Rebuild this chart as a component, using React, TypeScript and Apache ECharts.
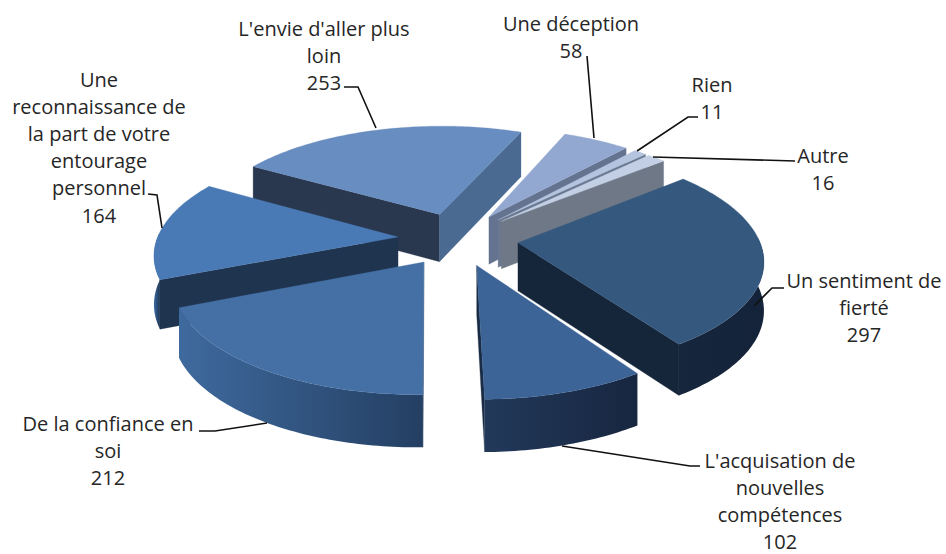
import React, { useEffect, useRef } from "react";
import * as echarts from "echarts";

const categories = [
  "Un sentiment de fierté",
  "L'acquisation de nouvelles compétences",
  "De la confiance en soi",
  "Une reconnaissance de la part de votre entourage personnel",
  "L'envie d'aller plus loin",
  "Une déception",
  "Rien",
  "Autre",
];
const values = [297, 102, 212, 164, 253, 58, 11, 16];

const topColors = ["#35587f", "#3c6496", "#4570a5", "#4a7ab5", "#688dc0", "#92a8d0", "#b4c3de", "#c3cfe4"];
const wallColors: [string, string][] = [
  ["#14233a", "#16263c"],
  ["#172640", "#22395a"],
  ["#243f62", "#3f6a9e"],
  ["#1e3550", "#3a6aa5"],
  ["#4a6a92", "#4a6a92"],
  ["#66758f", "#66758f"],
  ["#6a7890", "#6a7890"],
  ["#6f7886", "#6f7886"],
];
const startFaceColors = ["#16263a", "#22395a", "#243f62", "#1f344f", "#29384f", "#6a7a98", "#6a7a98", "#6f7886"];
const endFaceColors = ["#16263a", "#1a2c45", "#243f62", "#1e3550", "#4a6a92", "#64738f", "#6a7890", "#6f7886"];

type Label = { lines: string[]; x: number; y: number; leader: number[][] };
const labels: Label[] = [
  { lines: ["Un sentiment de", "fierté", "297"], x: 864, y: 280, leader: [[784, 288], [772, 288], [754, 306]] },
  { lines: ["L'acquisation de", "nouvelles", "compétences", "102"], x: 780, y: 460, leader: [[700, 466], [690, 466], [562, 446]] },
  { lines: ["De la confiance en", "soi", "212"], x: 108, y: 423, leader: [[199, 431], [215, 431], [267, 423]] },
  { lines: ["Une", "reconnaissance de", "la part de votre", "entourage", "personnel", "164"], x: 99, y: 79, leader: [[148, 194], [157, 195], [162, 228]] },
  { lines: ["L'envie d'aller plus", "loin", "253"], x: 324, y: 28, leader: [[344, 87], [358, 87], [376, 128]] },
  { lines: ["Une déception", "58"], x: 571, y: 23, leader: [[587, 56], [594, 138]] },
  { lines: ["Rien", "11"], x: 712, y: 84, leader: [[698, 117], [688, 117], [637, 151]] },
  { lines: ["Autre", "16"], x: 823, y: 155, leader: [[653, 157], [795, 161]] },
];

const START_DEG = 50;
const CX = 458;
const CY = 239;
const RX = 241;
const RY = 107;
const PERSP = 0.14;
const EXPLODE = 0.25;
const DEPTH = 48;
const TOTAL = values.reduce((a, b) => a + b, 0);

const rad = (d: number) => (d * Math.PI) / 180;

function project(xn: number, yn: number, drop: number): number[] {
  const s = 1 / (1 + PERSP * yn);
  return [CX + RX * xn * s, CY - RY * yn * s + drop * Math.sqrt(s)];
}

// true when the wedge's top lies above the tip -> rim edge, so the cut face below that edge shows
function faceVisible(tip: number[], rim: number[], other: number[]): boolean {
  const dx = rim[0] - tip[0];
  if (Math.abs(dx) < 1e-6) return false;
  const lineY = tip[1] + ((rim[1] - tip[1]) * (other[0] - tip[0])) / dx;
  return other[1] < lineY;
}

function buildSlice(index: number) {
  let a0 = START_DEG;
  for (let i = 0; i < index; i++) a0 += (values[i] / TOTAL) * 360;
  const a1 = a0 + (values[index] / TOTAL) * 360;
  const mid = (a0 + a1) / 2;
  const ex = EXPLODE * Math.sin(rad(mid));
  const ey = EXPLODE * Math.cos(rad(mid));
  const steps = Math.max(8, Math.ceil(a1 - a0));
  const angles: number[] = [];
  for (let i = 0; i <= steps; i++) angles.push(a0 + ((a1 - a0) * i) / steps);
  const rim = (a: number, drop: number) => project(ex + Math.sin(rad(a)), ey + Math.cos(rad(a)), drop);
  const topArc = angles.map((a) => rim(a, 0));
  const tip = project(ex, ey, 0);
  const tipB = project(ex, ey, DEPTH);
  const poly = (points: number[][], fill: any) => ({
    type: "polygon",
    shape: { points },
    style: { fill, stroke: typeof fill === "string" ? fill : undefined, lineWidth: 0.3 },
  });
  const children: any[] = [];
  const midPt = topArc[Math.floor(steps / 2)];
  if (faceVisible(tip, topArc[0], midPt)) {
    children.push(poly([tip, topArc[0], rim(a0, DEPTH), tipB], startFaceColors[index]));
  }
  if (faceVisible(tip, topArc[steps], midPt)) {
    children.push(poly([tip, topArc[steps], rim(a1, DEPTH), tipB], endFaceColors[index]));
  }
  const front = angles.filter((a) => Math.cos(rad(a)) < 0.05);
  if (front.length > 1) {
    const upper = front.map((a) => rim(a, 0));
    const lower = front.map((a) => rim(a, DEPTH)).reverse();
    const xs = upper.map((p) => p[0]);
    const fill = new echarts.graphic.LinearGradient(
      Math.min(...xs), 0, Math.max(...xs), 0,
      [
        { offset: 0, color: wallColors[index][1] },
        { offset: 1, color: wallColors[index][0] },
      ],
      true
    );
    children.push(poly(upper.concat(lower), fill));
  }
  children.push(poly([tip, ...topArc], topColors[index]));
  return { type: "group", children };
}

const midAngle = (index: number) => {
  let a = START_DEG;
  for (let i = 0; i < index; i++) a += (values[i] / TOTAL) * 360;
  return a + (values[index] / TOTAL) * 180;
};
const drawOrder = values
  .map((_, i) => i)
  .sort((a, b) => Math.cos(rad(midAngle(b))) - Math.cos(rad(midAngle(a))));

const FONT = "'Open Sans', sans-serif";
const LINE_H = 27.2;

export default function App() {
  const ref = useRef<HTMLDivElement>(null);
  useEffect(() => {
    document.body.style.margin = "0";
    const chart = echarts.init(ref.current!, undefined, { renderer: "svg" });
    const graphics: any[] = [];
    labels.forEach((l) => {
      graphics.push({
        type: "polyline",
        shape: { points: l.leader },
        style: { stroke: "#111111", lineWidth: 1.6, fill: "none" },
        z: 10,
      });
      l.lines.forEach((line, i) => {
        graphics.push({
          type: "text",
          x: l.x,
          y: l.y + i * LINE_H,
          z: 11,
          style: { text: line, fill: "#262626", font: `20px ${FONT}`, textAlign: "center", textVerticalAlign: "middle" },
        });
      });
    });
    chart.setOption({
      animation: false,
      backgroundColor: "#ffffff",
      graphic: graphics,
      series: [
        {
          type: "custom",
          coordinateSystem: "none",
          silent: true,
          data: drawOrder.map((i) => ({ name: categories[i], value: [values[i], i] })),
          renderItem: (_p: any, api: any) => buildSlice(api.value(1)),
        },
      ],
    });
    return () => chart.dispose();
  }, []);
  return <div ref={ref} style={{ position: "fixed", left: 0, top: 0, width: 946, height: 554 }} />;
}
